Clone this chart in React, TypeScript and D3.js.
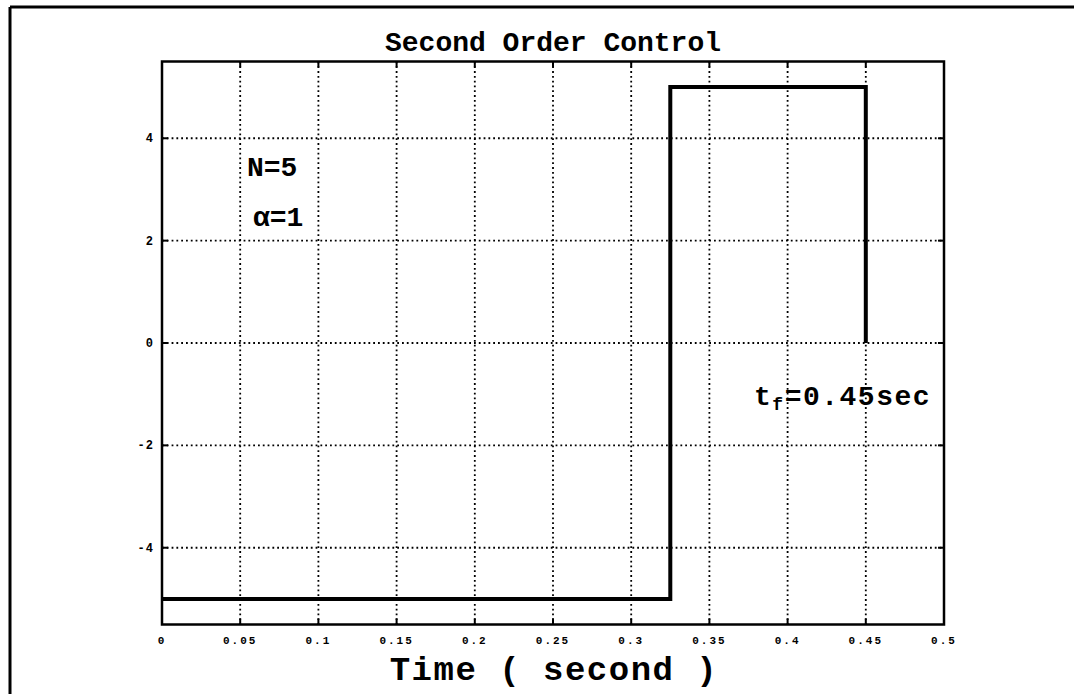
import React from "react";
import * as d3 from "d3";

const stepTimes = [0, 0.325, 0.325, 0.45, 0.45];
const stepValues = [-5, -5, 5, 5, 0];
const xTicks = [0, 0.05, 0.1, 0.15, 0.2, 0.25, 0.3, 0.35, 0.4, 0.45, 0.5];
const xTickLabels = ["0", "0.05", "0.1", "0.15", "0.2", "0.25", "0.3", "0.35", "0.4", "0.45", "0.5"];
const yTicks = [-4, -2, 0, 2, 4];
const yTickLabels = ["-4", "-2", "0", "2", "4"];

const W = 1074;
const H = 694;
const mono = "'Liberation Mono', 'DejaVu Sans Mono', monospace";

export default function App() {
  const x = d3.scaleLinear().domain([0, 0.5]).range([162, 944]);
  const y = d3.scaleLinear().domain([-5.5, 5.5]).range([624.5, 61.5]);
  const [x0, x1] = x.range();
  const [y0, y1] = y.range();
  const line = d3
    .line<number>()
    .x((_, i) => x(stepTimes[i]))
    .y((d) => y(d));

  return (
    <svg width={W} height={H} style={{ position: "absolute", left: 0, top: 0, background: "#fff" }}>
      <rect x={0} y={0} width={W} height={H} fill="#fff" />
      {/* outer frame */}
      <line x1={10} y1={7} x2={W} y2={7} stroke="#000" strokeWidth={3} />
      <line x1={10} y1={7} x2={10} y2={H} stroke="#000" strokeWidth={3} />

      {/* grid */}
      {xTicks.slice(1, -1).map((t) => (
        <line key={"gx" + t} x1={x(t)} x2={x(t)} y1={y1} y2={y0} stroke="#000" strokeWidth={1.8} strokeDasharray="1.8,3" />
      ))}
      {yTicks.map((t) => (
        <line key={"gy" + t} x1={x0} x2={x1} y1={y(t)} y2={y(t)} stroke="#000" strokeWidth={1.8} strokeDasharray="1.8,3" />
      ))}

      {/* ticks */}
      {xTicks.map((t) => (
        <g key={"tx" + t}>
          <line x1={x(t)} x2={x(t)} y1={y0} y2={y0 - 6} stroke="#000" strokeWidth={2} />
          <line x1={x(t)} x2={x(t)} y1={y1} y2={y1 + 6} stroke="#000" strokeWidth={2} />
        </g>
      ))}
      {yTicks.map((t) => (
        <g key={"ty" + t}>
          <line x1={x0} x2={x0 + 6} y1={y(t)} y2={y(t)} stroke="#000" strokeWidth={2} />
          <line x1={x1} x2={x1 - 6} y1={y(t)} y2={y(t)} stroke="#000" strokeWidth={2} />
        </g>
      ))}

      {/* axes box */}
      <rect x={x0} y={y1} width={x1 - x0} height={y0 - y1} fill="none" stroke="#000" strokeWidth={2.5} />

      {/* tick labels */}
      {xTicks.map((t, i) => (
        <text key={"lx" + t} x={x(t)} y={644} textAnchor="middle" fontFamily={mono} fontWeight="bold" fontSize={11} letterSpacing={2}>
          {xTickLabels[i]}
        </text>
      ))}
      {yTicks.map((t, i) => (
        <text key={"ly" + t} x={154} y={y(t) + 4} textAnchor="end" fontFamily={mono} fontWeight="bold" fontSize={12} letterSpacing={1}>
          {yTickLabels[i]}
        </text>
      ))}

      {/* data */}
      <path d={line(stepValues) || ""} fill="none" stroke="#000" strokeWidth={4} strokeLinejoin="miter" />

      {/* title & labels */}
      <text x={553} y={51} textAnchor="middle" fontFamily={mono} fontWeight="bold" fontSize={28}>
        Second Order Control
      </text>
      <text x={554} y={680} textAnchor="middle" fontFamily={mono} fontWeight="bold" fontSize={34} letterSpacing={1.5}>
        Time ( second )
      </text>

      {/* annotations */}
      <text x={247} y={176} fontFamily={mono} fontWeight="bold" fontSize={28}>N=5</text>
      <text x={253} y={226} fontFamily={mono} fontWeight="bold" fontSize={28}>α=1</text>
      <text x={754} y={405} fontFamily={mono} fontWeight="bold" fontSize={28} letterSpacing={1.5}>
        t<tspan fontSize={18} dy={5}>f</tspan><tspan dy={-5}>=0.45sec</tspan>
      </text>
    </svg>
  );
}
